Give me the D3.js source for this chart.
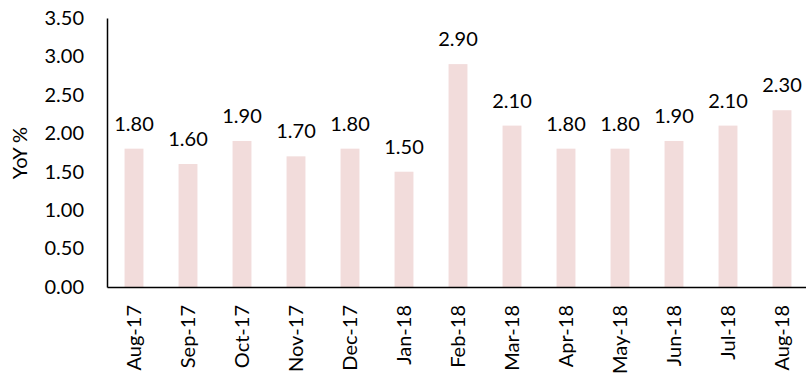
<!DOCTYPE html>
<html>
<head>
<meta charset="utf-8">
<script src="https://cdn.jsdelivr.net/npm/d3@7"></script>
<style>
  html, body { margin: 0; padding: 0; background: #fff; }
  svg { display: block; }
  text { font-family: Lato, "Open Sans", sans-serif; fill: #000; }
</style>
</head>
<body>
<svg id="chart" width="806" height="375"></svg>
<script>
const categories = ["Aug-17","Sep-17","Oct-17","Nov-17","Dec-17","Jan-18","Feb-18","Mar-18","Apr-18","May-18","Jun-18","Jul-18","Aug-18"];
const values = [1.80,1.60,1.90,1.70,1.80,1.50,2.90,2.10,1.80,1.80,1.90,2.10,2.30];
const yTicks = [0,0.5,1,1.5,2,2.5,3,3.5];
const yLabel = "YoY %";

const svg = d3.select("#chart");
const mLeft = 107, mRight = 809, mTop = 18, mBottom = 287;
const fs = 20;

const x = d3.scaleBand().domain(categories).range([mLeft, mRight]).paddingInner(0.65).paddingOuter(0.325);
const y = d3.scaleLinear().domain([0, 3.5]).range([mBottom, mTop]);

// bars
svg.append("g").selectAll("rect").data(values).join("rect")
  .attr("x", (d, i) => x(categories[i]))
  .attr("width", x.bandwidth())
  .attr("y", d => y(d))
  .attr("height", d => y(0) - y(d))
  .attr("fill", "#f2dcdb");

// value labels
svg.append("g").selectAll("text").data(values).join("text")
  .attr("x", (d, i) => x(categories[i]) + x.bandwidth() / 2)
  .attr("y", d => y(d) - 18)
  .attr("text-anchor", "middle")
  .style("font-size", fs + "px")
  .text(d => d.toFixed(2));

// y axis
const yAxis = d3.axisLeft(y).tickValues(yTicks).tickSize(0).tickPadding(23).tickFormat(d => d.toFixed(2));
const gy = svg.append("g").attr("transform", `translate(${mLeft},0)`).call(yAxis);
gy.select(".domain").attr("stroke", "#000").attr("stroke-width", 1.5);
gy.selectAll("text").style("font-size", fs + "px").style("font-family", "Lato, 'Open Sans', sans-serif");

// x axis
const xAxis = d3.axisBottom(x).tickSize(0).tickPadding(0);
const gx = svg.append("g").attr("transform", `translate(0,${mBottom})`).call(xAxis);
gx.select(".domain").attr("stroke", "#000").attr("stroke-width", 1.5);
gx.selectAll("text")
  .style("font-size", fs + "px")
  .style("font-family", "Lato, 'Open Sans', sans-serif")
  .attr("text-anchor", "end")
  .attr("dy", "0.35em")
  .attr("transform", "translate(0,18) rotate(-90)")
  .attr("x", 0).attr("y", 0);

// y label
svg.append("text")
  .attr("transform", "translate(27,153) rotate(-90)")
  .attr("text-anchor", "middle")
  .style("font-size", fs + "px")
  .text(yLabel);
</script>
</body>
</html>
